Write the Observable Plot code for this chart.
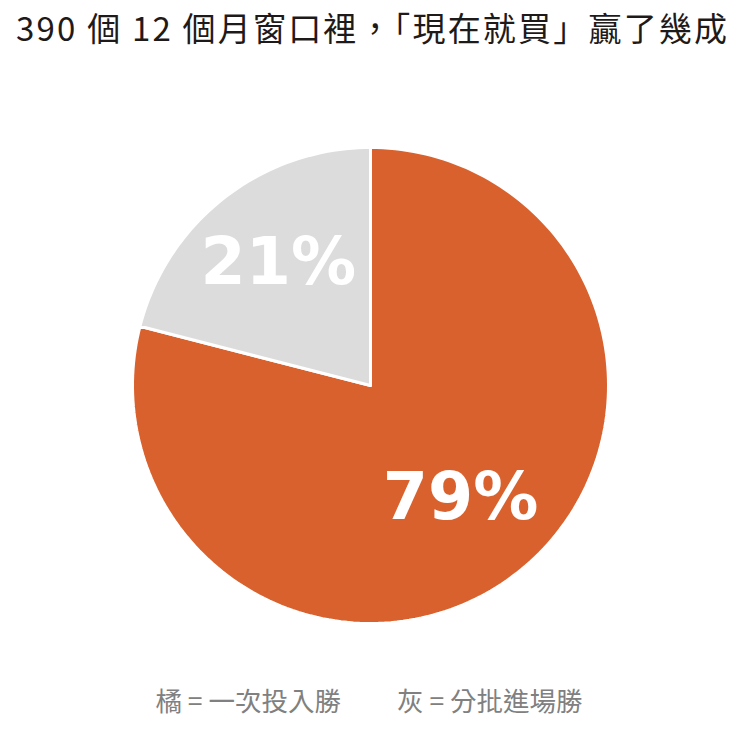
<!DOCTYPE html>
<html>
<head>
<meta charset="utf-8">
<script src="https://cdn.jsdelivr.net/npm/d3@7"></script>
<script src="https://cdn.jsdelivr.net/npm/@observablehq/plot@0.6"></script>
<style>
  html, body { margin: 0; padding: 0; background: #fff; width: 738px; height: 729px; overflow: hidden; }
  #title { height: 66px; padding-left: 16px; font-family: "Noto Sans CJK TC", "Noto Sans", sans-serif; font-size: 33px; color: #1f1a1a; line-height: 54px; white-space: nowrap; letter-spacing: 2.2px; overflow: hidden; }
  #chart svg { display: block; }
  #legend { text-align: center; font-family: "Noto Sans CJK TC", "Noto Sans", sans-serif; font-size: 26.5px; color: #808080; white-space: nowrap; margin-top: 16px; line-height: 36px; }
  #legend span { display: inline-block; }
  #legend .gap { width: 56px; }
</style>
</head>
<body>
<div id="title">390 個 12 個月窗口裡，「現在就買」贏了幾成</div>
<div id="chart"></div>
<div id="legend"><span>橘 = 一次投入勝</span><span class="gap"></span><span>灰 = 分批進場勝</span></div>
<script>
const categories = ["一次投入勝", "分批進場勝"];
const shares = [79, 21];
const sliceLabels = ["79%", "21%"];
const sliceColors = ["#D9612E", "#DCDCDC"];

const arcs = d3.pie().sort(null).value(d => d)(shares);
const steps = 240;
const points = [];
const labelPts = [];
arcs.forEach((a, i) => {
  const key = categories[i];
  points.push({key, x: 0, y: 0});
  const n = Math.max(2, Math.ceil(steps * (a.endAngle - a.startAngle) / (2 * Math.PI)));
  for (let k = 0; k <= n; k++) {
    const t = a.startAngle + (a.endAngle - a.startAngle) * k / n;
    points.push({key, x: Math.sin(t), y: Math.cos(t)});
  }
  points.push({key, x: 0, y: 0});
  const mid = (a.startAngle + a.endAngle) / 2;
  labelPts.push({key, label: sliceLabels[i], x: 0.625 * Math.sin(mid), y: 0.625 * Math.cos(mid)});
});

const W = 738, H = 600;
const cx = 370, cy = 319, R = 238;

const chart = Plot.plot({
  width: W,
  height: H,
  margin: 0,
  axis: null,
  x: {domain: [-1, 1], range: [cx - R, cx + R]},
  y: {domain: [-1, 1], range: [cy + R, cy - R]},
  color: {domain: categories, range: sliceColors},
  marks: [
    Plot.line(points, {x: "x", y: "y", z: "key", fill: "key", stroke: "white", strokeWidth: 3, strokeLinejoin: "miter"}),
    Plot.text(labelPts, {x: "x", y: "y", dx: -1, dy: -5, text: "label", fill: "white", fontSize: 65, fontWeight: "bold", fontFamily: "DejaVu Sans"})
  ]
});
document.getElementById("chart").appendChild(chart);
</script>
</body>
</html>
